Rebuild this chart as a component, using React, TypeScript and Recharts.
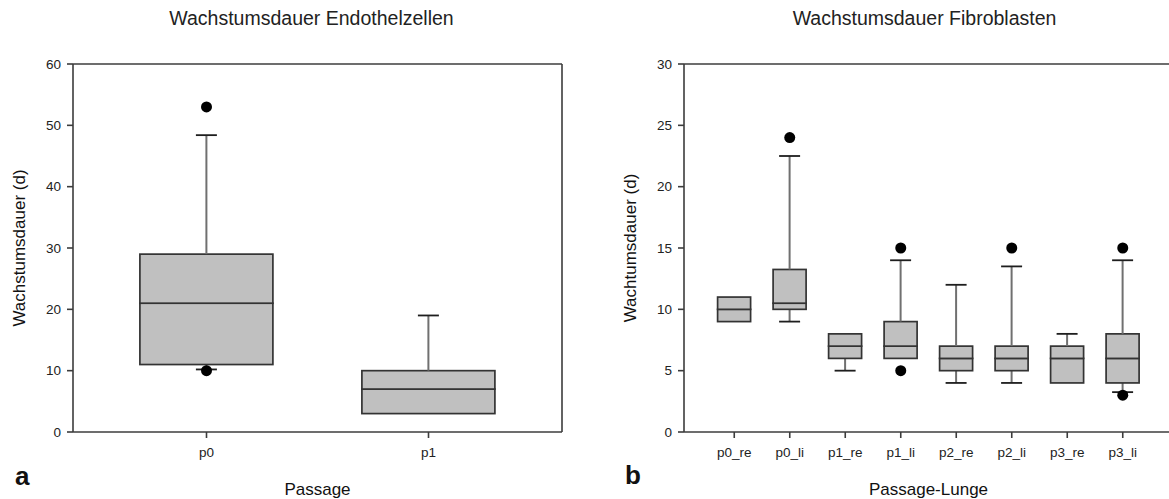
import React from "react";
import { Bar, ComposedChart, Label, Line, XAxis, YAxis } from "recharts";

const FONT = '"Liberation Sans", Arial, sans-serif';

// Endothelzellen, per passage
const endoPassages = ["p0", "p1"];
const endoWhiskerLow = [10.2, 3];
const endoQ1 = [11, 3];
const endoMedian = [21, 7];
const endoQ3 = [29, 10];
const endoWhiskerHigh = [48.4, 19];
const endoOutlierHigh = [53, null];
const endoOutlierLow = [10, null];
const endoTicks = [0, 10, 20, 30, 40, 50, 60];

// Fibroblasten, per passage and lung side
const fibroGroups = ["p0_re", "p0_li", "p1_re", "p1_li", "p2_re", "p2_li", "p3_re", "p3_li"];
const fibroWhiskerLow = [9, 9, 5, 6, 4, 4, 4, 3.25];
const fibroQ1 = [9, 10, 6, 6, 5, 5, 4, 4];
const fibroMedian = [10, 10.5, 7, 7, 6, 6, 6, 6];
const fibroQ3 = [11, 13.25, 8, 9, 7, 7, 7, 8];
const fibroWhiskerHigh = [11, 22.5, 8, 14, 12, 13.5, 8, 14];
const fibroOutlierHigh = [null, 24, null, 15, null, 15, null, 15];
const fibroOutlierLow = [null, null, null, 5, null, null, null, 3];
const fibroTicks = [0, 5, 10, 15, 20, 25, 30];

type Num = number | null;

// stacked segments: invisible base, lower whisker, box halves, upper whisker
function boxRows(names: string[], lo: number[], q1: number[], med: number[], q3: number[], hi: number[], outHi: Num[], outLo: Num[]) {
  return names.map((name, i) => ({
    name,
    base: lo[i],
    whiskerDown: q1[i] - lo[i],
    boxLower: med[i] - q1[i],
    boxUpper: q3[i] - med[i],
    whiskerUp: hi[i] - q3[i],
    outHi: outHi[i],
    outLo: outLo[i],
  }));
}

const endoRows = boxRows(endoPassages, endoWhiskerLow, endoQ1, endoMedian, endoQ3, endoWhiskerHigh, endoOutlierHigh, endoOutlierLow);
const fibroRows = boxRows(fibroGroups, fibroWhiskerLow, fibroQ1, fibroMedian, fibroQ3, fibroWhiskerHigh, fibroOutlierHigh, fibroOutlierLow);

const CAP = 21;
const axisStyle = { stroke: "#3c3c3c", strokeWidth: 1.6 };

function WhiskerDown(props: any) {
  const { x, y, width, height } = props;
  if (!height || height <= 0) return <g />;
  const cx = x + width / 2;
  return (
    <g>
      <line x1={cx} x2={cx} y1={y} y2={y + height} stroke="#707070" strokeWidth={2} />
      <line x1={cx - CAP / 2} x2={cx + CAP / 2} y1={y + height} y2={y + height} stroke="#1e1e1e" strokeWidth={1.8} />
    </g>
  );
}

function WhiskerUp(props: any) {
  const { x, y, width, height } = props;
  if (!height || height <= 0) return <g />;
  const cx = x + width / 2;
  return (
    <g>
      <line x1={cx} x2={cx} y1={y} y2={y + height} stroke="#707070" strokeWidth={2} />
      <line x1={cx - CAP / 2} x2={cx + CAP / 2} y1={y} y2={y} stroke="#1e1e1e" strokeWidth={1.8} />
    </g>
  );
}

function BoxPart(props: any) {
  const { x, y, width, height } = props;
  if (!height || height <= 0) return <g />;
  return <rect x={x} y={y} width={width} height={height} fill="#c0c0c0" stroke="#333" strokeWidth={1.7} />;
}

const outlierDot = { r: 5.5, fill: "#000", stroke: "#000", strokeWidth: 0 };

function BoxPanel({
  rows,
  ticks,
  yMax,
  width,
  yAxisWidth,
  title,
  titleDx,
  yLabel,
  yLabelOffset,
  xLabel,
}: {
  rows: ReturnType<typeof boxRows>;
  ticks: number[];
  yMax: number;
  width: number;
  yAxisWidth: number;
  title: string;
  titleDx: number;
  yLabel: string;
  yLabelOffset: number;
  xLabel: string;
}) {
  const pad = { left: 22.5, right: 22.5 };
  return (
    <ComposedChart width={width} height={499} data={rows} margin={{ top: 63, right: 7, bottom: 37, left: 0 }} barCategoryGap="20%">
      <XAxis
        dataKey="name"
        height={30}
        padding={pad}
        tickSize={6}
        tickMargin={9}
        tick={{ fontSize: 13.5, fill: "#222" }}
        axisLine={axisStyle}
        tickLine={axisStyle}
      >
        <Label value={xLabel} position="bottom" offset={21} fontSize={17} fill="#111" />
      </XAxis>
      {/* top and right axes only close the frame */}
      <XAxis xAxisId="top" dataKey="name" orientation="top" height={1} padding={pad} tick={false} tickLine={false} axisLine={axisStyle}>
        <Label value={title} position="top" offset={38} dx={titleDx} fontSize={19.5} fill="#222" />
      </XAxis>
      <YAxis
        type="number"
        domain={[0, yMax]}
        ticks={ticks}
        width={yAxisWidth}
        tickSize={6}
        tickMargin={6}
        tick={{ fontSize: 13.5, fill: "#222" }}
        axisLine={axisStyle}
        tickLine={axisStyle}
      >
        <Label value={yLabel} angle={-90} position="insideLeft" offset={yLabelOffset} fontSize={17} fill="#111" style={{ textAnchor: "middle" }} />
      </YAxis>
      <YAxis yAxisId="right" orientation="right" type="number" domain={[0, yMax]} width={1} tick={false} tickLine={false} axisLine={axisStyle} />
      <Bar dataKey="base" stackId="box" fill="none" isAnimationActive={false} />
      <Bar dataKey="whiskerDown" stackId="box" shape={WhiskerDown} isAnimationActive={false} />
      <Bar dataKey="boxLower" stackId="box" shape={BoxPart} isAnimationActive={false} />
      <Bar dataKey="boxUpper" stackId="box" shape={BoxPart} isAnimationActive={false} />
      <Bar dataKey="whiskerUp" stackId="box" shape={WhiskerUp} isAnimationActive={false} />
      <Line dataKey="outHi" stroke="none" dot={outlierDot} activeDot={false} legendType="none" isAnimationActive={false} />
      <Line dataKey="outLo" stroke="none" dot={outlierDot} activeDot={false} legendType="none" isAnimationActive={false} />
    </ComposedChart>
  );
}

export default function App() {
  return (
    <div
      style={{
        position: "absolute",
        left: 0,
        top: 0,
        width: 1169,
        height: 499,
        overflow: "hidden",
        background: "#fff",
        fontFamily: FONT,
      }}
    >
      <div style={{ position: "absolute", left: 0, top: 0 }}>
        <BoxPanel
          rows={endoRows}
          ticks={endoTicks}
          yMax={60}
          width={570}
          yAxisWidth={73}
          title="Wachstumsdauer Endothelzellen"
          titleDx={-6}
          yLabel="Wachstumsdauer (d)"
          yLabelOffset={19}
          xLabel="Passage"
        />
      </div>
      <div style={{ position: "absolute", left: 580, top: 0 }}>
        <BoxPanel
          rows={fibroRows}
          ticks={fibroTicks}
          yMax={30}
          width={601}
          yAxisWidth={104}
          title="Wachstumsdauer Fibroblasten"
          titleDx={-4}
          yLabel="Wachtumsdauer (d)"
          yLabelOffset={50}
          xLabel="Passage-Lunge"
        />
      </div>
      <svg width={1169} height={499} style={{ position: "absolute", left: 0, top: 0, pointerEvents: "none" }}>
        <text x={15} y={485} fontSize={26} fontWeight="bold" fill="#111">
          a
        </text>
        <text x={625} y={484} fontSize={26} fontWeight="bold" fill="#111">
          b
        </text>
      </svg>
    </div>
  );
}
